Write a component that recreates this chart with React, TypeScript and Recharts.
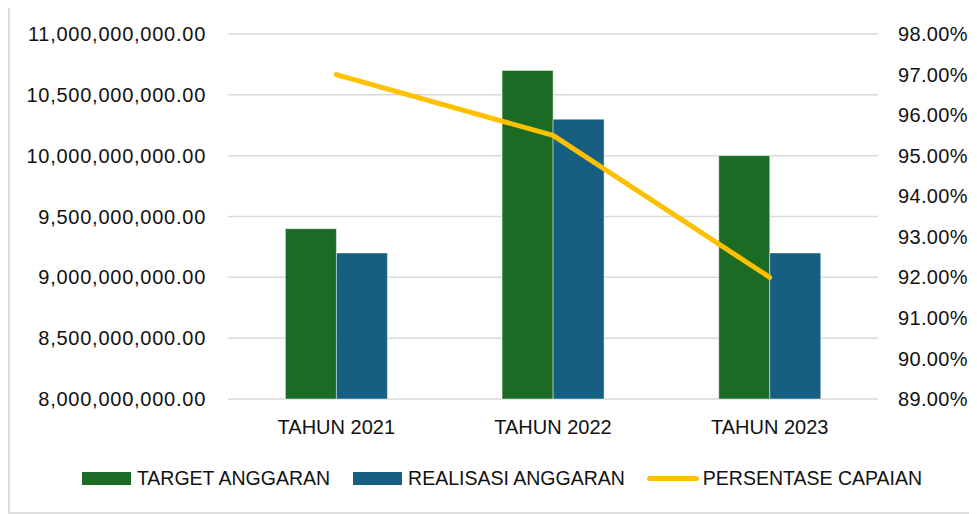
import React from 'react';
import { ComposedChart, Bar, Line, XAxis, YAxis, CartesianGrid, Legend } from 'recharts';

const categories = ['TAHUN 2021', 'TAHUN 2022', 'TAHUN 2023'];
const targetAnggaran = [9400000000, 10700000000, 10000000000];
const realisasiAnggaran = [9200000000, 10300000000, 9200000000];
const persentaseCapaian = [97, 95.5, 92];
const leftTicks = [8000000000, 8500000000, 9000000000, 9500000000, 10000000000, 10500000000, 11000000000];
const rightTicks = [89, 90, 91, 92, 93, 94, 95, 96, 97, 98];
const seriesNames = ['TARGET ANGGARAN', 'REALISASI ANGGARAN', 'PERSENTASE CAPAIAN'];
const colors = ['#1C6B25', '#165F83', '#FFC000'];

const data = categories.map((name, i) => ({
  name,
  target: targetAnggaran[i],
  realisasi: realisasiAnggaran[i],
  persen: persentaseCapaian[i],
}));

const FONT = '"Liberation Sans", Arial, sans-serif';

const fmtMoney = (v: number) =>
  v.toLocaleString('en-US', { minimumFractionDigits: 2, maximumFractionDigits: 2 });
const fmtPct = (v: number) => `${v.toFixed(2)}%`;

const renderLegend = () => (
  <div
    style={{
      display: 'flex',
      justifyContent: 'center',
      alignItems: 'center',
      height: 20,
      paddingLeft: 18,
      fontFamily: FONT,
      fontSize: 19.5,
      lineHeight: '20px',
      color: '#111',
      whiteSpace: 'nowrap',
    }}
  >
    <div style={{ display: 'flex', alignItems: 'center', marginRight: 23 }}>
      <span style={{ display: 'inline-block', width: 49, height: 13, background: colors[0], marginRight: 6 }} />
      <span>{seriesNames[0]}</span>
    </div>
    <div style={{ display: 'flex', alignItems: 'center', marginRight: 22 }}>
      <span style={{ display: 'inline-block', width: 49, height: 13, background: colors[1], marginRight: 6 }} />
      <span>{seriesNames[1]}</span>
    </div>
    <div style={{ display: 'flex', alignItems: 'center' }}>
      <span style={{ display: 'inline-block', width: 52, height: 5, borderRadius: 3, background: colors[2], marginRight: 4 }} />
      <span>{seriesNames[2]}</span>
    </div>
  </div>
);

export default function App() {
  return (
    <div
      style={{
        position: 'relative',
        width: 972,
        height: 508,
        marginTop: -2,
        border: '2px solid #dedede',
        boxSizing: 'border-box',
        background: '#fff',
      }}
    >
      <div style={{ position: 'absolute', left: -2, top: -2 }}>
        <ComposedChart
          width={970}
          height={507}
          data={data}
          margin={{ top: 28, right: 0, bottom: 25, left: 0 }}
          barCategoryGap="26.5%"
          barGap={0}
        >
          <CartesianGrid yAxisId="left" vertical={false} stroke="#d9d9d9" strokeWidth={1.5} />
          <XAxis
            dataKey="name"
            height={69}
            axisLine={false}
            tickLine={false}
            tickSize={0}
            tickMargin={21}
            interval={0}
            tick={{ fontSize: 20, fill: '#111', fontFamily: FONT }}
          />
          <YAxis
            yAxisId="left"
            width={220}
            domain={[8000000000, 11000000000]}
            ticks={leftTicks}
            interval={0}
            axisLine={false}
            tickLine={false}
            tickSize={0}
            tickMargin={22}
            tickFormatter={fmtMoney}
            tick={{ fontSize: 20, fill: '#111', fontFamily: FONT, letterSpacing: 0.75 }}
          />
          <YAxis
            yAxisId="right"
            orientation="right"
            width={100}
            domain={[89, 98]}
            ticks={rightTicks}
            interval={0}
            axisLine={false}
            tickLine={false}
            tickSize={0}
            tickMargin={20}
            tickFormatter={fmtPct}
            tick={{ fontSize: 20, fill: '#111', fontFamily: FONT, letterSpacing: 0.35 }}
          />
          <Legend verticalAlign="bottom" align="center" content={renderLegend} />
          <Bar
            yAxisId="left"
            dataKey="target"
            name={seriesNames[0]}
            fill={colors[0]}
            stroke="#ffffff"
            strokeOpacity={0.6}
            strokeWidth={0.75}
            isAnimationActive={false}
          />
          <Bar
            yAxisId="left"
            dataKey="realisasi"
            name={seriesNames[1]}
            fill={colors[1]}
            stroke="#ffffff"
            strokeOpacity={0.6}
            strokeWidth={0.75}
            isAnimationActive={false}
          />
          <Line
            yAxisId="right"
            type="linear"
            dataKey="persen"
            name={seriesNames[2]}
            stroke={colors[2]}
            strokeWidth={5}
            strokeLinecap="round"
            strokeLinejoin="round"
            dot={false}
            activeDot={false}
            isAnimationActive={false}
          />
        </ComposedChart>
      </div>
    </div>
  );
}
